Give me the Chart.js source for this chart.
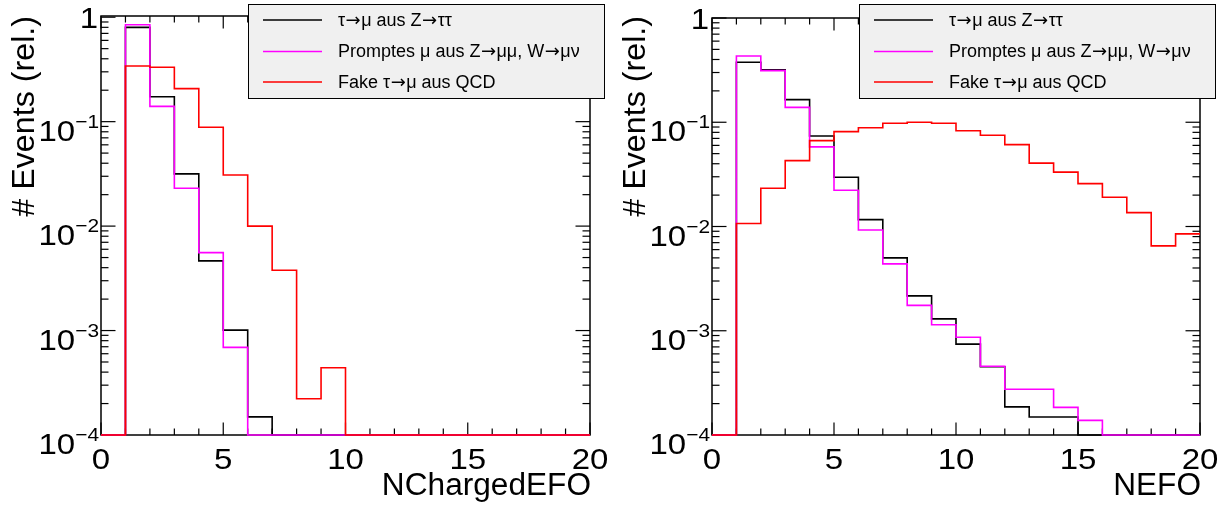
<!DOCTYPE html>
<html>
<head>
<meta charset="utf-8">
<script src="https://cdn.jsdelivr.net/npm/chart.js@4"></script>
<style>
  html, body { margin: 0; padding: 0; background: #fff; }
  #wrap { position: relative; width: 1223px; height: 506px; overflow: hidden; }
  canvas { position: absolute; top: 0; }
</style>
</head>
<body>
<div id="wrap">
  <canvas id="left" width="611" height="506" style="left:0"></canvas>
  <canvas id="right" width="612" height="506" style="left:611px"></canvas>
</div>
<script>
// bin lower edges (bin width 1), upper end of the axis
const bins = [0, 1, 2, 3, 4, 5, 6, 7, 8, 9, 10, 11, 12, 13, 14, 15, 16, 17, 18, 19];
const xMax = 20;
const yMin = 1e-4;

const seriesLabels = ["τ→μ aus Z→ττ", "Promptes μ aus Z→μμ, W→μν", "Fake τ→μ aus QCD"];
const seriesColors = ["#000000", "#ff00ff", "#ff0000"];

// left: NChargedEFO
const chargedTau = [0, 0.80, 0.173, 0.0316, 0.00465, 0.00101, 0.000149, 0, 0, 0, 0, 0, 0, 0, 0, 0, 0, 0, 0, 0];
const chargedPrompt = [0, 0.848, 0.140, 0.0230, 0.00557, 0.00069, 0, 0, 0, 0, 0, 0, 0, 0, 0, 0, 0, 0, 0, 0];
const chargedFake = [0, 0.341, 0.332, 0.207, 0.0884, 0.0309, 0.0100, 0.00378, 0.000222, 0.00044, 0, 0, 0, 0, 0, 0, 0, 0, 0, 0];

// right: NEFO
const neutralTau = [0, 0.376, 0.319, 0.165, 0.0739, 0.0297, 0.01165, 0.0050, 0.00216, 0.0013, 0.000744, 0.000451, 0.000186, 0.000149, 0.000149, 0, 0, 0, 0, 0];
const neutralPrompt = [0, 0.432, 0.313, 0.139, 0.058, 0.0223, 0.00927, 0.00438, 0.00175, 0.00114, 0.000867, 0.000457, 0.000275, 0.000275, 0.000184, 0.000138, 0, 0, 0, 0];
const neutralFake = [0, 0.0107, 0.0233, 0.0428, 0.0666, 0.0813, 0.0887, 0.0977, 0.100, 0.0977, 0.083, 0.075, 0.061, 0.0405, 0.0332, 0.0258, 0.0191, 0.0136, 0.00652, 0.00849];

// axis ticks / labels
const xMajorTicks = [0, 5, 10, 15, 20];
const xTickLabels = ["0", "5", "10", "15", "20"];
const yMajorTicks = [1e-4, 1e-3, 1e-2, 1e-1, 1];
const yTickLabels = [["10", "−4"], ["10", "−3"], ["10", "−2"], ["10", "−1"], ["1", ""]];
const yTitle = "# Events (rel.)";

const FONT = '"Liberation Sans", Arial, Helvetica, sans-serif';
const STRETCH = 1.1; // ROOT's labels run a bit wider than Liberation Sans

function histPoints(values) {
  const pts = bins.map((b, i) => ({ x: b, y: Math.max(values[i], yMin) }));
  pts.push({ x: xMax, y: Math.max(values[values.length - 1], yMin) });
  return pts;
}

function line(ctx, x1, y1, x2, y2) {
  ctx.beginPath();
  ctx.moveTo(x1, y1);
  ctx.lineTo(x2, y2);
  ctx.stroke();
}

// text stretched horizontally around its anchor
function wideText(ctx, text, x, y, sx) {
  ctx.save();
  ctx.translate(x, y);
  ctx.scale(sx, 1);
  ctx.fillText(text, 0, 0);
  ctx.restore();
}

// legend text: long arrows from DejaVu, the rest Liberation Sans
function legendText(ctx, text, x, y) {
  const parts = text.split("→");
  let cx = x;
  parts.forEach((p, i) => {
    ctx.font = "18px " + FONT;
    ctx.fillText(p, cx, y);
    cx += ctx.measureText(p).width;
    if (i < parts.length - 1) {
      ctx.font = '18px "DejaVu Sans", sans-serif';
      ctx.fillText("→", cx + 0.5, y);
      cx += ctx.measureText("→").width + 1;
    }
  });
}

function rootStyle(xTitle) {
  return {
    id: "rootStyle",
    beforeDatasetsDraw(chart) {
      const { ctx, chartArea: a, scales: { x, y } } = chart;
      ctx.save();
      ctx.strokeStyle = "#000";
      ctx.lineWidth = 1.5;
      ctx.strokeRect(a.left, a.top, a.right - a.left, a.bottom - a.top);

      // x ticks, inside the frame, bottom and top
      ctx.lineWidth = 1.2;
      for (let v = 0; v <= xMax; v++) {
        const px = x.getPixelForValue(v);
        const len = xMajorTicks.includes(v) ? 12.5 : 6.5;
        line(ctx, px, a.bottom, px, a.bottom - len);
        line(ctx, px, a.top, px, a.top + len);
      }
      // y ticks, left and right
      yMajorTicks.forEach((t) => {
        const py = y.getPixelForValue(t);
        line(ctx, a.left, py, a.left + 14.5, py);
        line(ctx, a.right, py, a.right - 14.5, py);
        if (t < 1) {
          for (let m = 2; m <= 9; m++) {
            const pm = y.getPixelForValue(t * m);
            line(ctx, a.left, pm, a.left + 7.5, pm);
            line(ctx, a.right, pm, a.right - 7.5, pm);
          }
        }
      });

      // tick labels
      ctx.fillStyle = "#000";
      ctx.font = "30px " + FONT;
      ctx.textAlign = "center";
      ctx.textBaseline = "alphabetic";
      xMajorTicks.forEach((t, i) => {
        wideText(ctx, xTickLabels[i], x.getPixelForValue(t), a.bottom + 34, STRETCH);
      });
      yMajorTicks.forEach((t, i) => {
        const py = y.getPixelForValue(t);
        const [base, sup] = yTickLabels[i];
        ctx.textAlign = "right";
        if (!sup) {
          ctx.font = "30px " + FONT;
          wideText(ctx, base, a.left - 3, py + 11, STRETCH);
          return;
        }
        ctx.font = "19px " + FONT;
        const sw = ctx.measureText(sup).width * STRETCH;
        wideText(ctx, sup, a.left - 2, py + 6, STRETCH);
        ctx.font = "30px " + FONT;
        wideText(ctx, base, a.left - 2 - sw, py + 19, STRETCH);
      });

      // axis titles
      ctx.font = "31px " + FONT;
      ctx.textAlign = "right";
      wideText(ctx, xTitle, a.right + 1, 495, 1.02);
      ctx.save();
      ctx.translate(34, 16);
      ctx.rotate(-Math.PI / 2);
      ctx.scale(1.04, 1);
      ctx.fillText(yTitle, 0, 0);
      ctx.restore();
      ctx.restore();
    },
    afterDraw(chart) {
      const ctx = chart.ctx;
      ctx.save();
      ctx.fillStyle = "#f0f0f0";
      ctx.fillRect(248, 4, 356, 94);
      ctx.strokeStyle = "#000";
      ctx.lineWidth = 1;
      ctx.strokeRect(248.5, 4.5, 356, 94);
      const rows = [20, 51.5, 82];
      ctx.textAlign = "left";
      ctx.textBaseline = "middle";
      chart.data.datasets.forEach((ds, i) => {
        ctx.strokeStyle = ds.borderColor;
        ctx.lineWidth = 1.5;
        line(ctx, 263, rows[i], 322, rows[i]);
        ctx.fillStyle = "#000";
        legendText(ctx, ds.label, 338, rows[i] + 1);
      });
      ctx.restore();
    }
  };
}

function makeChart(id, series, xTitle, yMax, padding) {
  return new Chart(document.getElementById(id), {
    type: "line",
    data: {
      datasets: series.map((vals, i) => ({
        label: seriesLabels[i],
        data: histPoints(vals),
        borderColor: seriesColors[i],
        borderWidth: 1.6,
        stepped: "before",
        fill: false,
        pointRadius: 0,
        clip: 4,
        order: series.length - i
      }))
    },
    options: {
      responsive: false,
      animation: false,
      devicePixelRatio: 1,
      layout: { padding },
      plugins: { legend: { display: false }, tooltip: { enabled: false } },
      scales: {
        x: { type: "linear", min: 0, max: xMax, display: false },
        y: { type: "logarithmic", min: yMin, max: yMax, display: false }
      }
    },
    plugins: [rootStyle(xTitle)]
  });
}

makeChart("left", [chargedTau, chargedPrompt, chargedFake], "NChargedEFO", 1.027,
  { left: 101, right: 21, top: 16, bottom: 71 });
makeChart("right", [neutralTau, neutralPrompt, neutralFake], "NEFO", 1.0,
  { left: 101, right: 23, top: 18, bottom: 71 });
</script>
</body>
</html>
